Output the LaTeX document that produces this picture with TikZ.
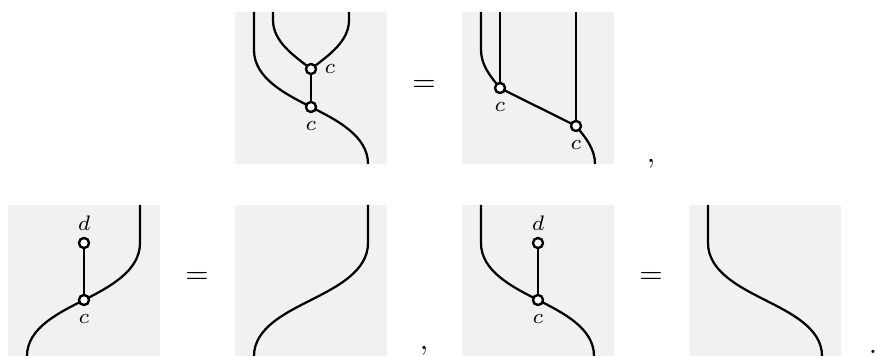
\documentclass[tikz,border=0pt]{standalone}
\usepackage{amsmath,amssymb}
\usepackage{tikz}
\definecolor{soft}{HTML}{F1F1F1}
\tikzset{
  panel/.style={fill=soft,draw=none,minimum size=152*0.3333pt,inner sep=0pt,outer sep=0pt,anchor=north west},
  wire/.style={draw=black,line width=0.75pt},
  spider/.style={circle,draw=black,fill=white,line width=0.75pt,inner sep=0pt,minimum size=3.3pt},
  lab/.style={font=\scriptsize,inner sep=0pt},
  sym/.style={inner sep=0pt},
}
\begin{document}
\begin{tikzpicture}[x=0.3333pt,y=-0.3333pt]
\useasboundingbox (0,0) rectangle (877,356);
% panels
\node[panel] (p1) at (235,12) {};
\node[panel] (p2) at (462,12) {};
\node[panel] (p3) at (8,205) {};
\node[panel] (p4) at (235,205) {};
\node[panel] (p5) at (462,205) {};
\node[panel] (p6) at (689,205) {};
% top left
\coordinate (a1) at (254,12); \coordinate (a2) at (254,50);
\coordinate (a3) at (273,12); \coordinate (a4) at (273,20);
\coordinate (a5) at (349,12); \coordinate (a6) at (349,20);
\coordinate (a7) at (368,164);
\node[spider] (s1) at (311,69) {};
\node[spider] (s2) at (311,107) {};
\draw[wire] (a1) -- (a2) to[out=-90,in=153,looseness=0.9] (s2.center);
\draw[wire] (a3) -- (a4) to[out=-90,in=142,looseness=0.9] (s1.center);
\draw[wire] (a5) -- (a6) to[out=-90,in=38,looseness=0.9] (s1.center);
\draw[wire] (s2.center) to[out=-27,in=90,looseness=0.9] (a7);
\draw[wire] (s1) -- (s2);
\node[spider] (s1) at (311,69) {};
\node[spider] (s2) at (311,107) {};
\node[lab] (c1) at (330,69) {$c$};
\node[lab] (c2) at (311,126) {$c$};
\node[sym] (e1) at (424,86) {$=$};
% top right
\coordinate (b1) at (481,12); \coordinate (b2) at (481,50);
\coordinate (b3) at (500,12); \coordinate (b4) at (576,12);
\coordinate (b5) at (595,164);
\node[spider] (s3) at (500,88) {};
\node[spider] (s4) at (576,126) {};
\draw[wire] (b1) -- (b2) to[out=-90,in=130,looseness=0.9] (s3.center);
\draw[wire] (b3) -- (s3);
\draw[wire] (b4) -- (s4);
\draw[wire] (s3.center) to[out=-27,in=153] (s4.center);
\draw[wire] (s4.center) to[out=-50,in=90,looseness=0.9] (b5);
\node[spider] (s3) at (500,88) {};
\node[spider] (s4) at (576,126) {};
\node[lab] (c3) at (500,107) {$c$};
\node[lab] (c4) at (576,145) {$c$};
\node[sym] (k1) at (651,164) {$,$};
% bottom row
\coordinate (d1) at (140,205); \coordinate (d2) at (140,243); \coordinate (d3) at (27,356);
\node[spider] (s5) at (84,243) {};
\node[spider] (s6) at (84,300) {};
\draw[wire] (d1) -- (d2) to[out=-90,in=27,looseness=0.9] (s6.center) to[out=-153,in=90,looseness=0.9] (d3);
\draw[wire] (s5) -- (s6);
\node[spider] (s5) at (84,243) {};
\node[spider] (s6) at (84,300) {};
\node[lab] (d4) at (84,223) {$d$};
\node[lab] (c5) at (84,319) {$c$};
\node[sym] (e2) at (197,278) {$=$};
\coordinate (f1) at (368,205); \coordinate (f2) at (368,243); \coordinate (f3) at (311,300); \coordinate (f4) at (254,356);
\draw[wire] (f1) -- (f2) to[out=-90,in=27,looseness=0.9] (f3) to[out=-153,in=90,looseness=0.9] (f4);
\node[sym] (k2) at (424,351) {$,$};
\coordinate (g1) at (481,205); \coordinate (g2) at (481,243); \coordinate (g3) at (594,356);
\node[spider] (s7) at (538,243) {};
\node[spider] (s8) at (538,300) {};
\draw[wire] (g1) -- (g2) to[out=-90,in=153,looseness=0.9] (s8.center) to[out=-27,in=90,looseness=0.9] (g3);
\draw[wire] (s7) -- (s8);
\node[spider] (s7) at (538,243) {};
\node[spider] (s8) at (538,300) {};
\node[lab] (d5) at (538,223) {$d$};
\node[lab] (c6) at (538,319) {$c$};
\node[sym] (e3) at (651,278) {$=$};
\coordinate (h1) at (708,205); \coordinate (h2) at (708,243); \coordinate (h3) at (765,300); \coordinate (h4) at (822,356);
\draw[wire] (h1) -- (h2) to[out=-90,in=153,looseness=0.9] (h3) to[out=-27,in=90,looseness=0.9] (h4);
\node[sym] (k3) at (873,352) {$.$};
\end{tikzpicture}
\end{document}
